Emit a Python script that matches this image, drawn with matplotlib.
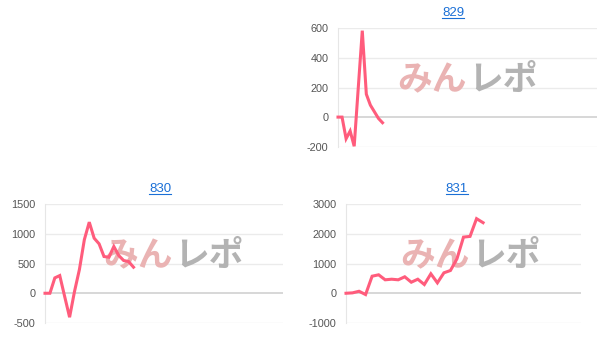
import matplotlib
matplotlib.use('Agg')
import matplotlib.pyplot as plt
from matplotlib.lines import Line2D

plt.rcParams['font.family'] = ['Liberation Sans', 'DejaVu Sans']

# データ (台番号ごとの差枚推移)
titles = ['829', '830', '831']
vals_829 = [0, 0, -146, -94, -197, 195, 584, 155, 81, 36, -9, -38]
vals_830 = [0, 0, 258, 297, -55, -403, 30, 400, 900, 1195, 925, 831, 617, 606, 786, 634, 550, 533, 438]
vals_831 = [0, 13, 67, -44, 573, 620, 452, 472, 452, 553, 371, 472, 293, 654, 350, 687, 765, 1159, 1887, 1911, 2507, 2372]
yticks_829 = [-200, 0, 200, 400, 600]
yticks_830 = [-500, 0, 500, 1000, 1500]
yticks_831 = [-1000, 0, 1000, 2000, 3000]
xmax = [64, 48.4, 36]

W, H = 616, 351
fig = plt.figure(figsize=(W / 100, H / 100), dpi=100)

def px(l, r, t, b):
    return [l / W, 1 - b / H, (r - l) / W, (b - t) / H]

charts = [
    (vals_829, yticks_829, xmax[0], px(338, 597, 28.3, 146.7), (453, 13), (0.496, 0.567)),
    (vals_830, yticks_830, xmax[1], px(45, 283, 204, 323), (160, 189), (0.538, 0.567)),
    (vals_831, yticks_831, xmax[2], px(346, 581, 204, 323), (457, 189), (0.528, 0.567)),
]

title_texts = []
for (vals, ticks, xm, rect, tpos, wpos), name in zip(charts, titles):
    ax = fig.add_axes(rect)
    ax.set_xlim(0, xm)
    ax.set_ylim(ticks[0], ticks[-1])
    ax.set_yticks(ticks)
    ax.set_yticklabels([str(t) for t in ticks])
    ax.set_xticks([])
    for s in ['top', 'right', 'bottom']:
        ax.spines[s].set_visible(False)
    ax.spines['left'].set_color('#e6e6e6')
    ax.tick_params(axis='y', length=0, pad=6.8, labelsize=7.8, labelcolor='#555555')
    for t in ticks:
        if t == 0:
            ax.axhline(t, color='#d4d4d4', lw=1.3, zorder=1)
        else:
            ax.axhline(t, color='#ebebeb', lw=1.0, zorder=1)
    ax.patch.set_alpha(0)
    # ウォーターマーク
    ax.text(wpos[0], wpos[1], 'みん', transform=ax.transAxes, ha='right', va='center',
            fontsize=25, fontweight='bold', color='#eab3b3', family=['Noto Sans CJK JP'],
            zorder=2)
    ax.text(wpos[0] + 0.005, wpos[1], 'レポ', transform=ax.transAxes, ha='left', va='center',
            fontsize=25, fontweight='bold', color='#b3b3b3', family=['Noto Sans CJK JP'],
            zorder=2)
    ax.plot(range(len(vals)), vals, color='#ff5c7c', lw=2.2, zorder=3,
            solid_joinstyle='miter', clip_on=False)
    tt = fig.text(tpos[0] / W, 1 - tpos[1] / H, name, ha='center', va='center',
                  fontsize=9.5, color='#1a6fd6')
    title_texts.append(tt)

# タイトルの下線
fig.canvas.draw()
r = fig.canvas.get_renderer()
for tt in title_texts:
    bb = tt.get_window_extent(r)
    y = (bb.y0 + 1.0) / H
    fig.add_artist(Line2D([bb.x0 / W, bb.x1 / W], [y, y], color='#1a6fd6', lw=0.8))

fig.savefig('out.png', dpi=100)
